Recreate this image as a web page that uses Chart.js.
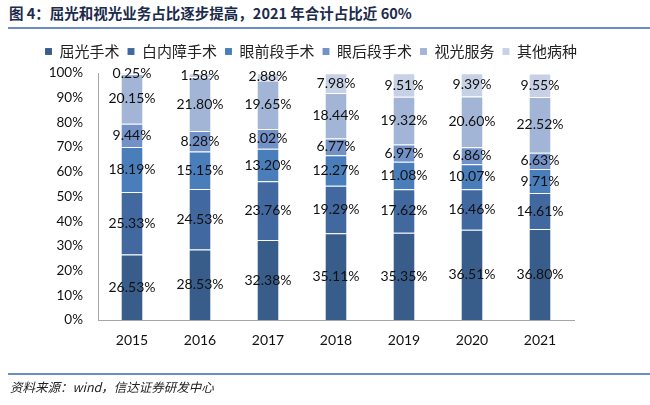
<!DOCTYPE html>
<html lang="zh">
<head>
<meta charset="UTF-8">
<title>屈光和视光业务占比</title>
<script src="https://cdn.jsdelivr.net/npm/chart.js"></script>
<style>
  body { margin: 0; background: #fff; }
  #wrap { position: relative; width: 650px; height: 405px; overflow: hidden; }
  #title {
    position: absolute; left: 9px; top: 4px;
    font: bold 14.5px "Noto Sans CJK SC", sans-serif; color: #1b2b4b;
    white-space: nowrap; line-height: 18px;
  }
  #titleLine { position: absolute; left: 8px; top: 27px; width: 642px; height: 2px; background: #6a8cca; }
  #srcLine { position: absolute; left: 8px; top: 373px; width: 642px; height: 2px; background: #6a8cca; }
  #source {
    position: absolute; left: 10px; top: 377px;
    font: italic 12.5px "Noto Sans CJK SC", sans-serif; color: #222; white-space: nowrap;
  }
  #chart { position: absolute; left: 0; top: 0; }
</style>
</head>
<body>
<div id="wrap">
  <div id="title">图 4：屈光和视光业务占比逐步提高，2021 年合计占比近 60%</div>
  <div id="titleLine"></div>
  <canvas id="chart" width="650" height="405"></canvas>
  <div id="srcLine"></div>
  <div id="source">资料来源：wind，信达证券研发中心</div>
</div>
<script>
// data (percent of revenue)
const years = ['2015', '2016', '2017', '2018', '2019', '2020', '2021'];
const refractive = [26.53, 28.53, 32.38, 35.11, 35.35, 36.51, 36.80];  // 屈光手术
const cataract = [25.33, 24.53, 23.76, 19.29, 17.62, 16.46, 14.61];    // 白内障手术
const anterior = [18.19, 15.15, 13.20, 12.27, 11.08, 10.07, 9.71];     // 眼前段手术
const posterior = [9.44, 8.28, 8.02, 6.77, 6.97, 6.86, 6.63];          // 眼后段手术
const optometry = [20.15, 21.80, 19.65, 18.44, 19.32, 20.60, 22.52];   // 视光服务
const others = [0.25, 1.58, 2.88, 7.98, 9.51, 9.39, 9.55];             // 其他病种
const yTicks = [0, 10, 20, 30, 40, 50, 60, 70, 80, 90, 100];

const seriesNames = ['屈光手术', '白内障手术', '眼前段手术', '眼后段手术', '视光服务', '其他病种'];
const seriesData = [refractive, cataract, anterior, posterior, optometry, others];
const colors = ['#385d8a', '#41689f', '#4a7ebb', '#7291c6', '#a2b5d7', '#c6d1e6'];

const datasets = seriesNames.map((name, i) => ({
  label: name,
  data: seriesData[i],
  backgroundColor: colors[i],
  borderColor: 'rgba(255,255,255,0.35)',
  borderWidth: { top: 1, left: 0, right: 0, bottom: 0 },
  borderSkipped: false,
  barPercentage: 0.31,
  categoryPercentage: 1
}));

// draws the percentage in the middle of each segment
const segmentLabels = {
  id: 'segmentLabels',
  afterDatasetsDraw(chart) {
    const ctx = chart.ctx;
    ctx.save();
    ctx.font = '14px Lato, sans-serif';
    ctx.fillStyle = '#111';
    ctx.textAlign = 'center';
    ctx.textBaseline = 'middle';
    chart.data.datasets.forEach((ds, i) => {
      const meta = chart.getDatasetMeta(i);
      meta.data.forEach((bar, j) => {
        const p = bar.getProps(['x', 'y', 'base'], true);
        ctx.fillText(ds.data[j].toFixed(2) + '%', p.x, (p.y + p.base) / 2);
      });
    });
    ctx.restore();
  }
};

// legend runs wider than the plot in the original, and must stay on one row
const legendFit = {
  id: 'legendFit',
  beforeInit(chart) {
    const fit = chart.legend.fit;
    chart.legend.fit = function () {
      this.maxWidth = 640;
      fit.call(this);
      this.height = 37;
    };
  },
  afterLayout(chart) {
    chart.legend.right = 645;
    chart.legend.width = chart.legend.right - chart.legend.left;
  }
};

new Chart(document.getElementById('chart'), {
  type: 'bar',
  data: { labels: years, datasets: datasets },
  options: {
    responsive: false,
    animation: false,
    layout: { padding: { left: 37, right: 76, top: 36, bottom: 0 } },
    plugins: {
      legend: {
        position: 'top',
        align: 'start',
        labels: {
          boxWidth: 7,
          boxHeight: 7,
          padding: 8,
          color: '#222',
          font: { family: '"Noto Sans CJK SC", sans-serif', size: 15 }
        }
      },
      tooltip: { enabled: false }
    },
    scales: {
      x: {
        stacked: true,
        grid: { display: false, drawTicks: false },
        border: { display: true, color: '#a6a6a6', width: 1 },
        ticks: { color: '#111', padding: 12, font: { family: 'Lato, sans-serif', size: 14 } },
        afterFit(scale) { scale.height = 85; }
      },
      y: {
        stacked: true,
        min: 0,
        max: 100,
        afterBuildTicks(scale) { scale.ticks = yTicks.map(v => ({ value: v })); },
        grid: { display: false, drawTicks: false },
        border: { display: true, color: '#a6a6a6', width: 1 },
        ticks: {
          color: '#111',
          padding: 15,
          font: { family: 'Lato, sans-serif', size: 13.5 },
          callback: v => v + '%'
        },
        afterFit(scale) { scale.width = 61; }
      }
    }
  },
  plugins: [segmentLabels, legendFit]
});
</script>
</body>
</html>
